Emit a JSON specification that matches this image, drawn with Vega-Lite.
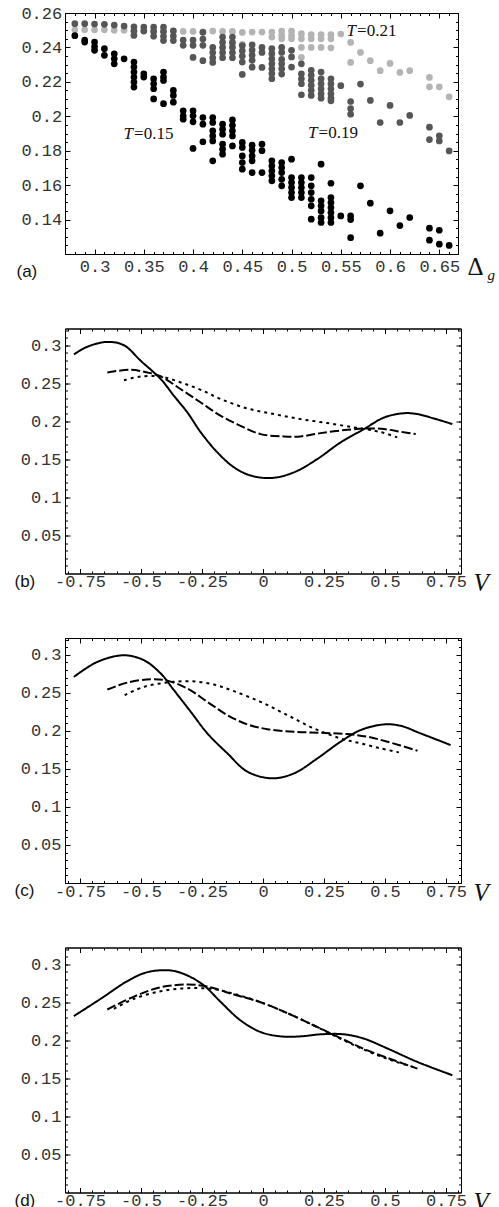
{
"$schema": "https://vega.github.io/schema/vega-lite/v6.json",
"background": "white",
"padding": {"left": 13, "top": 0, "right": 2, "bottom": 0},
"spacing": 12.5,
"bounds": "full",
"config": {
  "view": {"stroke": "#000", "strokeWidth": 1},
  "axis": {"grid": false, "domainColor": "#000", "domainWidth": 1, "tickColor": "#000", "tickWidth": 1, "labelFont": "Liberation Mono", "labelFontSize": 17, "labelColor": "#333", "labelFlush": false, "labelOverlap": false, "labelBound": false, "titleColor": "#111", "titleFontWeight": "normal"}
},
"datasets": {
"annot": [
 {"d": 0.5655, "c": 0.2468, "t": "T", "val": "=0.21"},
 {"d": 0.5264, "c": 0.1871, "t": "T", "val": "=0.19"},
 {"d": 0.3391, "c": 0.1869, "t": "T", "val": "=0.15"}
],
"scatter": [
{"d":0.28,"c":0.2502,"T":"0.21"},{"d":0.29,"c":0.2502,"T":"0.21"},{"d":0.3,"c":0.2502,"T":"0.21"},{"d":0.31,"c":0.2502,"T":"0.21"},{"d":0.32,"c":0.25,"T":"0.21"},{"d":0.33,"c":0.25,"T":"0.21"},{"d":0.34,"c":0.2498,"T":"0.21"},{"d":0.35,"c":0.2497,"T":"0.21"},{"d":0.36,"c":0.2495,"T":"0.21"},{"d":0.37,"c":0.2495,"T":"0.21"},{"d":0.38,"c":0.2495,"T":"0.21"},{"d":0.39,"c":0.2493,"T":"0.21"},{"d":0.4,"c":0.2493,"T":"0.21"},{"d":0.41,"c":0.249,"T":"0.21"},{"d":0.42,"c":0.2495,"T":"0.21"},{"d":0.43,"c":0.2493,"T":"0.21"},{"d":0.44,"c":0.2493,"T":"0.21"},{"d":0.44,"c":0.242,"T":"0.21"},{"d":0.45,"c":0.2487,"T":"0.21"},{"d":0.45,"c":0.2418,"T":"0.21"},{"d":0.46,"c":0.2489,"T":"0.21"},{"d":0.47,"c":0.2489,"T":"0.21"},{"d":0.48,"c":0.2489,"T":"0.21"},{"d":0.48,"c":0.246,"T":"0.21"},{"d":0.49,"c":0.2495,"T":"0.21"},{"d":0.49,"c":0.247,"T":"0.21"},{"d":0.49,"c":0.245,"T":"0.21"},{"d":0.5,"c":0.2495,"T":"0.21"},{"d":0.5,"c":0.247,"T":"0.21"},{"d":0.5,"c":0.245,"T":"0.21"},{"d":0.51,"c":0.248,"T":"0.21"},{"d":0.51,"c":0.245,"T":"0.21"},{"d":0.51,"c":0.24,"T":"0.21"},{"d":0.51,"c":0.2342,"T":"0.21"},{"d":0.52,"c":0.2475,"T":"0.21"},{"d":0.52,"c":0.245,"T":"0.21"},{"d":0.52,"c":0.24,"T":"0.21"},{"d":0.53,"c":0.2475,"T":"0.21"},{"d":0.53,"c":0.245,"T":"0.21"},{"d":0.53,"c":0.24,"T":"0.21"},{"d":0.54,"c":0.2475,"T":"0.21"},{"d":0.54,"c":0.245,"T":"0.21"},{"d":0.54,"c":0.2398,"T":"0.21"},{"d":0.55,"c":0.2478,"T":"0.21"},{"d":0.56,"c":0.2429,"T":"0.21"},{"d":0.56,"c":0.2313,"T":"0.21"},{"d":0.57,"c":0.2371,"T":"0.21"},{"d":0.58,"c":0.2323,"T":"0.21"},{"d":0.59,"c":0.2265,"T":"0.21"},{"d":0.6,"c":0.2307,"T":"0.21"},{"d":0.61,"c":0.2255,"T":"0.21"},{"d":0.62,"c":0.2265,"T":"0.21"},{"d":0.64,"c":0.2226,"T":"0.21"},{"d":0.64,"c":0.2171,"T":"0.21"},{"d":0.65,"c":0.2171,"T":"0.21"},{"d":0.66,"c":0.2113,"T":"0.21"},
{"d":0.28,"c":0.2538,"T":"0.19"},{"d":0.29,"c":0.2538,"T":"0.19"},{"d":0.3,"c":0.2536,"T":"0.19"},{"d":0.31,"c":0.2534,"T":"0.19"},{"d":0.32,"c":0.253,"T":"0.19"},{"d":0.33,"c":0.2524,"T":"0.19"},{"d":0.34,"c":0.252,"T":"0.19"},{"d":0.34,"c":0.2495,"T":"0.19"},{"d":0.34,"c":0.247,"T":"0.19"},{"d":0.35,"c":0.2518,"T":"0.19"},{"d":0.35,"c":0.2495,"T":"0.19"},{"d":0.36,"c":0.2518,"T":"0.19"},{"d":0.36,"c":0.2492,"T":"0.19"},{"d":0.36,"c":0.2465,"T":"0.19"},{"d":0.37,"c":0.2518,"T":"0.19"},{"d":0.37,"c":0.2492,"T":"0.19"},{"d":0.37,"c":0.2465,"T":"0.19"},{"d":0.37,"c":0.244,"T":"0.19"},{"d":0.38,"c":0.2497,"T":"0.19"},{"d":0.38,"c":0.2466,"T":"0.19"},{"d":0.38,"c":0.244,"T":"0.19"},{"d":0.39,"c":0.2443,"T":"0.19"},{"d":0.39,"c":0.2412,"T":"0.19"},{"d":0.4,"c":0.2443,"T":"0.19"},{"d":0.4,"c":0.2412,"T":"0.19"},{"d":0.4,"c":0.2342,"T":"0.19"},{"d":0.41,"c":0.2488,"T":"0.19"},{"d":0.41,"c":0.2449,"T":"0.19"},{"d":0.41,"c":0.2412,"T":"0.19"},{"d":0.41,"c":0.2323,"T":"0.19"},{"d":0.42,"c":0.24,"T":"0.19"},{"d":0.42,"c":0.237,"T":"0.19"},{"d":0.42,"c":0.234,"T":"0.19"},{"d":0.42,"c":0.2313,"T":"0.19"},{"d":0.43,"c":0.246,"T":"0.19"},{"d":0.43,"c":0.243,"T":"0.19"},{"d":0.43,"c":0.24,"T":"0.19"},{"d":0.43,"c":0.237,"T":"0.19"},{"d":0.43,"c":0.234,"T":"0.19"},{"d":0.44,"c":0.246,"T":"0.19"},{"d":0.44,"c":0.243,"T":"0.19"},{"d":0.44,"c":0.24,"T":"0.19"},{"d":0.44,"c":0.237,"T":"0.19"},{"d":0.44,"c":0.234,"T":"0.19"},{"d":0.45,"c":0.2411,"T":"0.19"},{"d":0.45,"c":0.238,"T":"0.19"},{"d":0.45,"c":0.235,"T":"0.19"},{"d":0.45,"c":0.2315,"T":"0.19"},{"d":0.45,"c":0.2243,"T":"0.19"},{"d":0.46,"c":0.2415,"T":"0.19"},{"d":0.46,"c":0.2385,"T":"0.19"},{"d":0.46,"c":0.2355,"T":"0.19"},{"d":0.46,"c":0.2325,"T":"0.19"},{"d":0.46,"c":0.2285,"T":"0.19"},{"d":0.47,"c":0.24,"T":"0.19"},{"d":0.47,"c":0.2371,"T":"0.19"},{"d":0.47,"c":0.2284,"T":"0.19"},{"d":0.48,"c":0.2393,"T":"0.19"},{"d":0.48,"c":0.2364,"T":"0.19"},{"d":0.48,"c":0.2334,"T":"0.19"},{"d":0.48,"c":0.2305,"T":"0.19"},{"d":0.48,"c":0.2276,"T":"0.19"},{"d":0.48,"c":0.2248,"T":"0.19"},{"d":0.48,"c":0.2218,"T":"0.19"},{"d":0.49,"c":0.24,"T":"0.19"},{"d":0.49,"c":0.2371,"T":"0.19"},{"d":0.49,"c":0.233,"T":"0.19"},{"d":0.49,"c":0.2305,"T":"0.19"},{"d":0.49,"c":0.2276,"T":"0.19"},{"d":0.49,"c":0.2245,"T":"0.19"},{"d":0.5,"c":0.2383,"T":"0.19"},{"d":0.5,"c":0.2345,"T":"0.19"},{"d":0.5,"c":0.2286,"T":"0.19"},{"d":0.51,"c":0.2305,"T":"0.19"},{"d":0.51,"c":0.2247,"T":"0.19"},{"d":0.51,"c":0.2218,"T":"0.19"},{"d":0.51,"c":0.2189,"T":"0.19"},{"d":0.51,"c":0.2125,"T":"0.19"},{"d":0.52,"c":0.2267,"T":"0.19"},{"d":0.52,"c":0.2238,"T":"0.19"},{"d":0.52,"c":0.2209,"T":"0.19"},{"d":0.52,"c":0.218,"T":"0.19"},{"d":0.52,"c":0.2151,"T":"0.19"},{"d":0.52,"c":0.2121,"T":"0.19"},{"d":0.53,"c":0.2257,"T":"0.19"},{"d":0.53,"c":0.2218,"T":"0.19"},{"d":0.53,"c":0.2189,"T":"0.19"},{"d":0.53,"c":0.216,"T":"0.19"},{"d":0.53,"c":0.2131,"T":"0.19"},{"d":0.53,"c":0.2105,"T":"0.19"},{"d":0.54,"c":0.2218,"T":"0.19"},{"d":0.54,"c":0.2189,"T":"0.19"},{"d":0.54,"c":0.216,"T":"0.19"},{"d":0.54,"c":0.2131,"T":"0.19"},{"d":0.54,"c":0.2105,"T":"0.19"},{"d":0.54,"c":0.209,"T":"0.19"},{"d":0.55,"c":0.2178,"T":"0.19"},{"d":0.56,"c":0.2086,"T":"0.19"},{"d":0.56,"c":0.2045,"T":"0.19"},{"d":0.56,"c":0.2012,"T":"0.19"},{"d":0.57,"c":0.2187,"T":"0.19"},{"d":0.58,"c":0.2092,"T":"0.19"},{"d":0.59,"c":0.1964,"T":"0.19"},{"d":0.6,"c":0.2063,"T":"0.19"},{"d":0.61,"c":0.1964,"T":"0.19"},{"d":0.62,"c":0.2005,"T":"0.19"},{"d":0.64,"c":0.1937,"T":"0.19"},{"d":0.64,"c":0.1865,"T":"0.19"},{"d":0.65,"c":0.1887,"T":"0.19"},{"d":0.65,"c":0.1857,"T":"0.19"},{"d":0.66,"c":0.1799,"T":"0.19"},
{"d":0.28,"c":0.2468,"T":"0.15"},{"d":0.29,"c":0.2443,"T":"0.15"},{"d":0.29,"c":0.2431,"T":"0.15"},{"d":0.3,"c":0.2431,"T":"0.15"},{"d":0.3,"c":0.2405,"T":"0.15"},{"d":0.3,"c":0.2383,"T":"0.15"},{"d":0.31,"c":0.2393,"T":"0.15"},{"d":0.31,"c":0.2354,"T":"0.15"},{"d":0.32,"c":0.2363,"T":"0.15"},{"d":0.32,"c":0.2334,"T":"0.15"},{"d":0.32,"c":0.2305,"T":"0.15"},{"d":0.33,"c":0.2334,"T":"0.15"},{"d":0.34,"c":0.2315,"T":"0.15"},{"d":0.34,"c":0.2286,"T":"0.15"},{"d":0.34,"c":0.2257,"T":"0.15"},{"d":0.34,"c":0.2228,"T":"0.15"},{"d":0.34,"c":0.2199,"T":"0.15"},{"d":0.34,"c":0.217,"T":"0.15"},{"d":0.35,"c":0.2247,"T":"0.15"},{"d":0.35,"c":0.2228,"T":"0.15"},{"d":0.36,"c":0.2218,"T":"0.15"},{"d":0.36,"c":0.2189,"T":"0.15"},{"d":0.36,"c":0.216,"T":"0.15"},{"d":0.36,"c":0.2101,"T":"0.15"},{"d":0.37,"c":0.2257,"T":"0.15"},{"d":0.37,"c":0.2228,"T":"0.15"},{"d":0.37,"c":0.2208,"T":"0.15"},{"d":0.37,"c":0.2073,"T":"0.15"},{"d":0.38,"c":0.215,"T":"0.15"},{"d":0.38,"c":0.2121,"T":"0.15"},{"d":0.38,"c":0.2082,"T":"0.15"},{"d":0.39,"c":0.2032,"T":"0.15"},{"d":0.39,"c":0.2003,"T":"0.15"},{"d":0.39,"c":0.1983,"T":"0.15"},{"d":0.4,"c":0.2032,"T":"0.15"},{"d":0.4,"c":0.2003,"T":"0.15"},{"d":0.4,"c":0.1968,"T":"0.15"},{"d":0.4,"c":0.1813,"T":"0.15"},{"d":0.41,"c":0.1993,"T":"0.15"},{"d":0.41,"c":0.1954,"T":"0.15"},{"d":0.41,"c":0.1852,"T":"0.15"},{"d":0.42,"c":0.1993,"T":"0.15"},{"d":0.42,"c":0.1964,"T":"0.15"},{"d":0.42,"c":0.1916,"T":"0.15"},{"d":0.42,"c":0.1886,"T":"0.15"},{"d":0.42,"c":0.1857,"T":"0.15"},{"d":0.42,"c":0.1741,"T":"0.15"},{"d":0.43,"c":0.1954,"T":"0.15"},{"d":0.43,"c":0.1925,"T":"0.15"},{"d":0.43,"c":0.1896,"T":"0.15"},{"d":0.43,"c":0.1838,"T":"0.15"},{"d":0.43,"c":0.1809,"T":"0.15"},{"d":0.43,"c":0.178,"T":"0.15"},{"d":0.44,"c":0.1979,"T":"0.15"},{"d":0.44,"c":0.1948,"T":"0.15"},{"d":0.44,"c":0.1916,"T":"0.15"},{"d":0.44,"c":0.1886,"T":"0.15"},{"d":0.44,"c":0.1828,"T":"0.15"},{"d":0.45,"c":0.1848,"T":"0.15"},{"d":0.45,"c":0.1819,"T":"0.15"},{"d":0.45,"c":0.177,"T":"0.15"},{"d":0.45,"c":0.1731,"T":"0.15"},{"d":0.45,"c":0.1693,"T":"0.15"},{"d":0.46,"c":0.1832,"T":"0.15"},{"d":0.46,"c":0.1803,"T":"0.15"},{"d":0.46,"c":0.177,"T":"0.15"},{"d":0.46,"c":0.1741,"T":"0.15"},{"d":0.46,"c":0.1673,"T":"0.15"},{"d":0.47,"c":0.1838,"T":"0.15"},{"d":0.47,"c":0.18,"T":"0.15"},{"d":0.47,"c":0.1673,"T":"0.15"},{"d":0.48,"c":0.1741,"T":"0.15"},{"d":0.48,"c":0.1712,"T":"0.15"},{"d":0.48,"c":0.1683,"T":"0.15"},{"d":0.48,"c":0.1654,"T":"0.15"},{"d":0.48,"c":0.1625,"T":"0.15"},{"d":0.49,"c":0.1731,"T":"0.15"},{"d":0.49,"c":0.1702,"T":"0.15"},{"d":0.49,"c":0.1673,"T":"0.15"},{"d":0.49,"c":0.1634,"T":"0.15"},{"d":0.49,"c":0.1596,"T":"0.15"},{"d":0.5,"c":0.1751,"T":"0.15"},{"d":0.5,"c":0.1644,"T":"0.15"},{"d":0.5,"c":0.1615,"T":"0.15"},{"d":0.5,"c":0.1586,"T":"0.15"},{"d":0.5,"c":0.1557,"T":"0.15"},{"d":0.5,"c":0.1528,"T":"0.15"},{"d":0.51,"c":0.1644,"T":"0.15"},{"d":0.51,"c":0.1615,"T":"0.15"},{"d":0.51,"c":0.1586,"T":"0.15"},{"d":0.51,"c":0.1557,"T":"0.15"},{"d":0.51,"c":0.1528,"T":"0.15"},{"d":0.52,"c":0.1644,"T":"0.15"},{"d":0.52,"c":0.1596,"T":"0.15"},{"d":0.52,"c":0.1557,"T":"0.15"},{"d":0.52,"c":0.1518,"T":"0.15"},{"d":0.52,"c":0.148,"T":"0.15"},{"d":0.52,"c":0.1402,"T":"0.15"},{"d":0.53,"c":0.1722,"T":"0.15"},{"d":0.53,"c":0.1509,"T":"0.15"},{"d":0.53,"c":0.148,"T":"0.15"},{"d":0.53,"c":0.145,"T":"0.15"},{"d":0.53,"c":0.1411,"T":"0.15"},{"d":0.53,"c":0.1383,"T":"0.15"},{"d":0.54,"c":0.1611,"T":"0.15"},{"d":0.54,"c":0.1528,"T":"0.15"},{"d":0.54,"c":0.1499,"T":"0.15"},{"d":0.54,"c":0.147,"T":"0.15"},{"d":0.54,"c":0.1441,"T":"0.15"},{"d":0.54,"c":0.1411,"T":"0.15"},{"d":0.54,"c":0.1383,"T":"0.15"},{"d":0.55,"c":0.1421,"T":"0.15"},{"d":0.56,"c":0.1421,"T":"0.15"},{"d":0.56,"c":0.14,"T":"0.15"},{"d":0.56,"c":0.1295,"T":"0.15"},{"d":0.57,"c":0.1596,"T":"0.15"},{"d":0.58,"c":0.1495,"T":"0.15"},{"d":0.59,"c":0.1321,"T":"0.15"},{"d":0.6,"c":0.1451,"T":"0.15"},{"d":0.61,"c":0.1365,"T":"0.15"},{"d":0.62,"c":0.1412,"T":"0.15"},{"d":0.64,"c":0.135,"T":"0.15"},{"d":0.64,"c":0.128,"T":"0.15"},{"d":0.65,"c":0.1338,"T":"0.15"},{"d":0.65,"c":0.1257,"T":"0.15"},{"d":0.66,"c":0.125,"T":"0.15"}
],
"b": [
{"V":-0.775,"v":0.288,"s":"solid"},{"V":-0.72,"v":0.298,"s":"solid"},{"V":-0.638,"v":0.3044,"s":"solid"},{"V":-0.57,"v":0.3,"s":"solid"},{"V":-0.501,"v":0.2795,"s":"solid"},{"V":-0.419,"v":0.2555,"s":"solid"},{"V":-0.365,"v":0.2335,"s":"solid"},{"V":-0.31,"v":0.2117,"s":"solid"},{"V":-0.255,"v":0.1855,"s":"solid"},{"V":-0.187,"v":0.1592,"s":"solid"},{"V":-0.119,"v":0.1396,"s":"solid"},{"V":-0.05,"v":0.1287,"s":"solid"},{"V":0.038,"v":0.1256,"s":"solid"},{"V":0.127,"v":0.133,"s":"solid"},{"V":0.223,"v":0.1505,"s":"solid"},{"V":0.318,"v":0.1723,"s":"solid"},{"V":0.414,"v":0.1898,"s":"solid"},{"V":0.496,"v":0.205,"s":"solid"},{"V":0.578,"v":0.2107,"s":"solid"},{"V":0.633,"v":0.2095,"s":"solid"},{"V":0.7,"v":0.2038,"s":"solid"},{"V":0.776,"v":0.1964,"s":"solid"},
{"V":-0.638,"v":0.2642,"s":"dash"},{"V":-0.542,"v":0.2677,"s":"dash"},{"V":-0.474,"v":0.2642,"s":"dash"},{"V":-0.419,"v":0.259,"s":"dash"},{"V":-0.337,"v":0.2422,"s":"dash"},{"V":-0.255,"v":0.2247,"s":"dash"},{"V":-0.173,"v":0.2072,"s":"dash"},{"V":-0.092,"v":0.1941,"s":"dash"},{"V":-0.01,"v":0.1832,"s":"dash"},{"V":0.086,"v":0.1802,"s":"dash"},{"V":0.154,"v":0.1802,"s":"dash"},{"V":0.236,"v":0.1845,"s":"dash"},{"V":0.346,"v":0.1889,"s":"dash"},{"V":0.428,"v":0.1907,"s":"dash"},{"V":0.496,"v":0.1898,"s":"dash"},{"V":0.564,"v":0.1863,"s":"dash"},{"V":0.626,"v":0.1832,"s":"dash"},
{"V":-0.57,"v":0.254,"s":"dot"},{"V":-0.501,"v":0.2589,"s":"dot"},{"V":-0.419,"v":0.2589,"s":"dot"},{"V":-0.337,"v":0.2511,"s":"dot"},{"V":-0.255,"v":0.2414,"s":"dot"},{"V":-0.173,"v":0.2292,"s":"dot"},{"V":-0.064,"v":0.2169,"s":"dot"},{"V":0.045,"v":0.2095,"s":"dot"},{"V":0.154,"v":0.2029,"s":"dot"},{"V":0.264,"v":0.1977,"s":"dot"},{"V":0.373,"v":0.192,"s":"dot"},{"V":0.455,"v":0.1877,"s":"dot"},{"V":0.496,"v":0.1846,"s":"dot"},{"V":0.55,"v":0.1789,"s":"dot"}
],
"c": [
{"V":-0.775,"v":0.2709,"s":"solid"},{"V":-0.679,"v":0.2906,"s":"solid"},{"V":-0.57,"v":0.2993,"s":"solid"},{"V":-0.488,"v":0.2928,"s":"solid"},{"V":-0.419,"v":0.2753,"s":"solid"},{"V":-0.365,"v":0.2534,"s":"solid"},{"V":-0.296,"v":0.225,"s":"solid"},{"V":-0.228,"v":0.1966,"s":"solid"},{"V":-0.146,"v":0.1704,"s":"solid"},{"V":-0.064,"v":0.1463,"s":"solid"},{"V":0.038,"v":0.1376,"s":"solid"},{"V":0.127,"v":0.1441,"s":"solid"},{"V":0.223,"v":0.1638,"s":"solid"},{"V":0.318,"v":0.1857,"s":"solid"},{"V":0.4,"v":0.201,"s":"solid"},{"V":0.496,"v":0.2084,"s":"solid"},{"V":0.564,"v":0.2066,"s":"solid"},{"V":0.646,"v":0.1966,"s":"solid"},{"V":0.769,"v":0.1813,"s":"solid"},
{"V":-0.638,"v":0.2543,"s":"dash"},{"V":-0.556,"v":0.2634,"s":"dash"},{"V":-0.46,"v":0.2678,"s":"dash"},{"V":-0.392,"v":0.266,"s":"dash"},{"V":-0.31,"v":0.2556,"s":"dash"},{"V":-0.228,"v":0.2381,"s":"dash"},{"V":-0.146,"v":0.2206,"s":"dash"},{"V":-0.064,"v":0.2084,"s":"dash"},{"V":0.018,"v":0.2022,"s":"dash"},{"V":0.127,"v":0.1987,"s":"dash"},{"V":0.236,"v":0.1974,"s":"dash"},{"V":0.346,"v":0.1957,"s":"dash"},{"V":0.428,"v":0.1922,"s":"dash"},{"V":0.51,"v":0.1857,"s":"dash"},{"V":0.633,"v":0.1739,"s":"dash"},
{"V":-0.567,"v":0.2469,"s":"dot"},{"V":-0.488,"v":0.2578,"s":"dot"},{"V":-0.392,"v":0.2635,"s":"dot"},{"V":-0.296,"v":0.2652,"s":"dot"},{"V":-0.201,"v":0.2608,"s":"dot"},{"V":-0.119,"v":0.2521,"s":"dot"},{"V":-0.01,"v":0.2381,"s":"dot"},{"V":0.1,"v":0.2206,"s":"dot"},{"V":0.209,"v":0.2031,"s":"dot"},{"V":0.318,"v":0.19,"s":"dot"},{"V":0.4,"v":0.1835,"s":"dot"},{"V":0.482,"v":0.1769,"s":"dot"},{"V":0.557,"v":0.1717,"s":"dot"}
],
"d": [
{"V":-0.775,"v":0.2319,"s":"solid"},{"V":-0.665,"v":0.2546,"s":"solid"},{"V":-0.556,"v":0.2778,"s":"solid"},{"V":-0.474,"v":0.2896,"s":"solid"},{"V":-0.378,"v":0.2918,"s":"solid"},{"V":-0.31,"v":0.2852,"s":"solid"},{"V":-0.242,"v":0.2721,"s":"solid"},{"V":-0.173,"v":0.2503,"s":"solid"},{"V":-0.092,"v":0.2262,"s":"solid"},{"V":-0.01,"v":0.2109,"s":"solid"},{"V":0.072,"v":0.2052,"s":"solid"},{"V":0.154,"v":0.2052,"s":"solid"},{"V":0.236,"v":0.2079,"s":"solid"},{"V":0.332,"v":0.2079,"s":"solid"},{"V":0.414,"v":0.2022,"s":"solid"},{"V":0.496,"v":0.1913,"s":"solid"},{"V":0.633,"v":0.1716,"s":"solid"},{"V":0.776,"v":0.1541,"s":"solid"},
{"V":-0.638,"v":0.2405,"s":"dash"},{"V":-0.529,"v":0.2575,"s":"dash"},{"V":-0.419,"v":0.2698,"s":"dash"},{"V":-0.31,"v":0.2733,"s":"dash"},{"V":-0.228,"v":0.2707,"s":"dash"},{"V":-0.119,"v":0.2602,"s":"dash"},{"V":-0.01,"v":0.2501,"s":"dash"},{"V":0.1,"v":0.2357,"s":"dash"},{"V":0.209,"v":0.2195,"s":"dash"},{"V":0.318,"v":0.2029,"s":"dash"},{"V":0.428,"v":0.1867,"s":"dash"},{"V":0.537,"v":0.1738,"s":"dash"},{"V":0.633,"v":0.1628,"s":"dash"},
{"V":-0.611,"v":0.2414,"s":"dot"},{"V":-0.529,"v":0.2546,"s":"dot"},{"V":-0.419,"v":0.2646,"s":"dot"},{"V":-0.31,"v":0.2685,"s":"dot"},{"V":-0.201,"v":0.2672,"s":"dot"},{"V":-0.119,"v":0.2611,"s":"dot"},{"V":-0.01,"v":0.2501,"s":"dot"},{"V":0.1,"v":0.2357,"s":"dot"},{"V":0.209,"v":0.2195,"s":"dot"},{"V":0.318,"v":0.202,"s":"dot"},{"V":0.428,"v":0.1858,"s":"dot"},{"V":0.537,"v":0.1727,"s":"dot"},{"V":0.626,"v":0.1641,"s":"dot"}
]
},
"vconcat": [
{
 "width": 393, "height": 241,
 "layer": [
  {"data": {"name": "scatter"},
   "mark": {"type": "circle", "size": 45, "opacity": 1},
   "encoding": {
    "x": {"field": "d", "type": "quantitative", "scale": {"domain": [0.27, 0.669], "nice": false, "zero": false},
      "axis": {"orient": "bottom", "values": [0.3,0.35,0.4,0.45,0.5,0.55,0.6,0.65], "labelExpr": "'' + datum.value", "tickSize": -5, "labelPadding": 9.3, "title": "Δ", "titleX": 402, "titleY": 20.3, "titleAnchor": "start", "titleAlign": "left", "titleBaseline": "alphabetic", "titleFont": "Liberation Serif", "titleFontSize": 25}},
    "y": {"field": "c", "type": "quantitative", "scale": {"domain": [0.12, 0.26], "nice": false, "zero": false},
      "axis": {"orient": "left", "values": [0.14,0.16,0.18,0.2,0.22,0.24,0.26], "labelExpr": "'' + datum.value", "tickSize": -5, "labelPadding": 8.3, "title": "(a)", "titleAngle": 0, "titleX": -49, "titleY": 263.7, "titleAnchor": "start", "titleAlign": "left", "titleBaseline": "alphabetic", "titleFont": "Liberation Sans", "titleFontSize": 17}},
    "color": {"field": "T", "type": "nominal", "scale": {"domain": ["0.21","0.19","0.15"], "range": ["#b4b4b4","#565656","#000000"]}, "legend": null}
   }},
  {"data": {"name": "annot"},
   "mark": {"type": "point", "opacity": 0},
   "encoding": {
    "x": {"field": "d", "type": "quantitative", "scale": {"domain": [0.27, 0.669], "nice": false, "zero": false},
      "axis": {"orient": "bottom", "values": [0.27,0.28,0.29,0.3,0.31,0.32,0.33,0.34,0.35,0.36,0.37,0.38,0.39,0.4,0.41,0.42,0.43,0.44,0.45,0.46,0.47,0.48,0.49,0.5,0.51,0.52,0.53,0.54,0.55,0.56,0.57,0.58,0.59,0.6,0.61,0.62,0.63,0.64,0.65,0.66], "labels": false, "domain": false, "tickSize": -2.5, "title": "g", "titleX": 422, "titleY": 25.5, "titleAnchor": "start", "titleAlign": "left", "titleBaseline": "alphabetic", "titleFont": "Liberation Serif", "titleFontStyle": "italic", "titleFontSize": 15}},
    "y": {"field": "c", "type": "quantitative", "scale": {"domain": [0.12, 0.26], "nice": false, "zero": false},
      "axis": {"orient": "left", "values": [0.12,0.125,0.13,0.135,0.14,0.145,0.15,0.155,0.16,0.165,0.17,0.175,0.18,0.185,0.19,0.195,0.2,0.205,0.21,0.215,0.22,0.225,0.23,0.235,0.24,0.245,0.25,0.255,0.26], "labels": false, "domain": false, "tickSize": -2.5, "title": null}}
   }},
  {"data": {"name": "annot"},
   "mark": {"type": "point", "opacity": 0},
   "encoding": {
    "x": {"field": "d", "type": "quantitative", "scale": {"domain": [0.27, 0.669], "nice": false, "zero": false},
      "axis": {"orient": "top", "values": [0.3,0.35,0.4,0.45,0.5,0.55,0.6,0.65], "labels": false, "tickSize": -5, "title": "x", "titleOpacity": 0, "titleFontSize": 10, "titleX": 0, "titleY": 281.5, "titleBaseline": "top", "titleAlign": "left", "titleAnchor": "start"}},
    "y": {"field": "c", "type": "quantitative", "scale": {"domain": [0.12, 0.26], "nice": false, "zero": false},
      "axis": {"orient": "right", "values": [0.14,0.16,0.18,0.2,0.22,0.24,0.26], "labels": false, "tickSize": -5, "title": null}}
   }},
  {"data": {"name": "annot"},
   "mark": {"type": "point", "opacity": 0},
   "encoding": {
    "x": {"field": "d", "type": "quantitative", "scale": {"domain": [0.27, 0.669], "nice": false, "zero": false},
      "axis": {"orient": "top", "values": [0.27,0.28,0.29,0.3,0.31,0.32,0.33,0.34,0.35,0.36,0.37,0.38,0.39,0.4,0.41,0.42,0.43,0.44,0.45,0.46,0.47,0.48,0.49,0.5,0.51,0.52,0.53,0.54,0.55,0.56,0.57,0.58,0.59,0.6,0.61,0.62,0.63,0.64,0.65,0.66], "labels": false, "domain": false, "tickSize": -2.5, "title": "x", "titleOpacity": 0, "titleFontSize": 10, "titleX": 0, "titleY": -12, "titleBaseline": "top", "titleAlign": "left", "titleAnchor": "start"}},
    "y": {"field": "c", "type": "quantitative", "scale": {"domain": [0.12, 0.26], "nice": false, "zero": false},
      "axis": {"orient": "right", "values": [0.12,0.125,0.13,0.135,0.14,0.145,0.15,0.155,0.16,0.165,0.17,0.175,0.18,0.185,0.19,0.195,0.2,0.205,0.21,0.215,0.22,0.225,0.23,0.235,0.24,0.245,0.25,0.255,0.26], "labels": false, "domain": false, "tickSize": -2.5, "title": null}}
   }},
  {"data": {"name": "annot"},
   "mark": {"type": "text", "font": "Liberation Serif", "fontStyle": "italic", "fontSize": 17, "align": "right", "baseline": "alphabetic", "color": "#111"},
   "encoding": {
    "x": {"field": "d", "type": "quantitative", "scale": {"domain": [0.27, 0.669], "nice": false, "zero": false}, "axis": null},
    "y": {"field": "c", "type": "quantitative", "scale": {"domain": [0.12, 0.26], "nice": false, "zero": false}, "axis": null},
    "text": {"field": "t"}
   }},
  {"data": {"name": "annot"},
   "mark": {"type": "text", "font": "Liberation Serif", "fontSize": 17, "align": "left", "baseline": "alphabetic", "color": "#111", "dx": 1},
   "encoding": {
    "x": {"field": "d", "type": "quantitative", "scale": {"domain": [0.27, 0.669], "nice": false, "zero": false}, "axis": null},
    "y": {"field": "c", "type": "quantitative", "scale": {"domain": [0.12, 0.26], "nice": false, "zero": false}, "axis": null},
    "text": {"field": "val"}
   }}
 ],
 "resolve": {"axis": {"x": "independent", "y": "independent"}}
},
{
 "width": 396, "height": 245,
 "data": {"name": "b"},
 "layer": [
  {"mark": {"type": "line", "color": "#000", "strokeWidth": 2, "interpolate": "catmull-rom"},
   "encoding": {
    "x": {"field": "V", "type": "quantitative", "scale": {"domain": [-0.8115, 0.8115], "nice": false, "zero": false},
      "axis": {"orient": "bottom", "values": [-0.75,-0.5,-0.25,0,0.25,0.5,0.75], "labelExpr": "'' + datum.value", "tickSize": -5, "labelPadding": 5.3, "title": "V", "titleX": 408, "titleY": 17.3, "titleAnchor": "start", "titleAlign": "left", "titleBaseline": "alphabetic", "titleFont": "Liberation Serif", "titleFontStyle": "italic", "titleFontSize": 25}},
    "y": {"field": "v", "type": "quantitative", "scale": {"domain": [0, 0.322], "nice": false, "zero": false},
      "axis": {"orient": "left", "values": [0.05,0.1,0.15,0.2,0.25,0.3], "labelExpr": "'' + datum.value", "tickSize": -5, "labelPadding": 9, "title": "(b)", "titleAngle": 0, "titleX": -51, "titleY": 257.7, "titleAnchor": "start", "titleAlign": "left", "titleBaseline": "alphabetic", "titleFont": "Liberation Sans", "titleFontSize": 17}},
    "strokeDash": {"field": "s", "type": "nominal", "scale": {"domain": ["solid","dash","dot"], "range": [[1,0],[9,3],[3,4]]}, "legend": null}
   }},
  {"mark": {"type": "point", "opacity": 0},
   "encoding": {
    "x": {"field": "V", "type": "quantitative", "scale": {"domain": [-0.8115, 0.8115], "nice": false, "zero": false},
      "axis": {"orient": "bottom", "values": [-0.8,-0.75,-0.7,-0.65,-0.6,-0.55,-0.5,-0.45,-0.4,-0.35,-0.3,-0.25,-0.2,-0.15,-0.1,-0.05,0,0.05,0.1,0.15,0.2,0.25,0.3,0.35,0.4,0.45,0.5,0.55,0.6,0.65,0.7,0.75,0.8], "labels": false, "domain": false, "tickSize": -2.5, "title": null}},
    "y": {"field": "v", "type": "quantitative", "scale": {"domain": [0, 0.322], "nice": false, "zero": false},
      "axis": {"orient": "left", "values": [0.01,0.02,0.03,0.04,0.05,0.06,0.07,0.08,0.09,0.1,0.11,0.12,0.13,0.14,0.15,0.16,0.17,0.18,0.19,0.2,0.21,0.22,0.23,0.24,0.25,0.26,0.27,0.28,0.29,0.3,0.31,0.32], "labels": false, "domain": false, "tickSize": -2.5, "title": null}}
   }},
  {"mark": {"type": "point", "opacity": 0},
   "encoding": {
    "x": {"field": "V", "type": "quantitative", "scale": {"domain": [-0.8115, 0.8115], "nice": false, "zero": false},
      "axis": {"orient": "top", "values": [-0.75,-0.5,-0.25,0,0.25,0.5,0.75], "labels": false, "tickSize": -5, "title": "x", "titleOpacity": 0, "titleFontSize": 10, "titleX": 0, "titleY": 275, "titleBaseline": "top", "titleAlign": "left", "titleAnchor": "start"}},
    "y": {"field": "v", "type": "quantitative", "scale": {"domain": [0, 0.322], "nice": false, "zero": false},
      "axis": {"orient": "right", "values": [0.05,0.1,0.15,0.2,0.25,0.3], "labels": false, "tickSize": -5, "title": null}}
   }},
  {"mark": {"type": "point", "opacity": 0},
   "encoding": {
    "x": {"field": "V", "type": "quantitative", "scale": {"domain": [-0.8115, 0.8115], "nice": false, "zero": false},
      "axis": {"orient": "top", "values": [-0.8,-0.75,-0.7,-0.65,-0.6,-0.55,-0.5,-0.45,-0.4,-0.35,-0.3,-0.25,-0.2,-0.15,-0.1,-0.05,0,0.05,0.1,0.15,0.2,0.25,0.3,0.35,0.4,0.45,0.5,0.55,0.6,0.65,0.7,0.75,0.8], "labels": false, "domain": false, "tickSize": -2.5, "title": "x", "titleOpacity": 0, "titleFontSize": 10, "titleX": 0, "titleY": -10, "titleBaseline": "top", "titleAlign": "left", "titleAnchor": "start"}},
    "y": {"field": "v", "type": "quantitative", "scale": {"domain": [0, 0.322], "nice": false, "zero": false},
      "axis": {"orient": "right", "values": [0.01,0.02,0.03,0.04,0.05,0.06,0.07,0.08,0.09,0.1,0.11,0.12,0.13,0.14,0.15,0.16,0.17,0.18,0.19,0.2,0.21,0.22,0.23,0.24,0.25,0.26,0.27,0.28,0.29,0.3,0.31,0.32], "labels": false, "domain": false, "tickSize": -2.5, "title": null}}
   }}
 ],
 "resolve": {"axis": {"x": "independent", "y": "independent"}}
},
{
 "width": 396, "height": 245,
 "data": {"name": "c"},
 "layer": [
  {"mark": {"type": "line", "color": "#000", "strokeWidth": 2, "interpolate": "catmull-rom"},
   "encoding": {
    "x": {"field": "V", "type": "quantitative", "scale": {"domain": [-0.8115, 0.8115], "nice": false, "zero": false},
      "axis": {"orient": "bottom", "values": [-0.75,-0.5,-0.25,0,0.25,0.5,0.75], "labelExpr": "'' + datum.value", "tickSize": -5, "labelPadding": 5.3, "title": "V", "titleX": 408, "titleY": 17.3, "titleAnchor": "start", "titleAlign": "left", "titleBaseline": "alphabetic", "titleFont": "Liberation Serif", "titleFontStyle": "italic", "titleFontSize": 25}},
    "y": {"field": "v", "type": "quantitative", "scale": {"domain": [0, 0.322], "nice": false, "zero": false},
      "axis": {"orient": "left", "values": [0.05,0.1,0.15,0.2,0.25,0.3], "labelExpr": "'' + datum.value", "tickSize": -5, "labelPadding": 9, "title": "(c)", "titleAngle": 0, "titleX": -51, "titleY": 257.7, "titleAnchor": "start", "titleAlign": "left", "titleBaseline": "alphabetic", "titleFont": "Liberation Sans", "titleFontSize": 17}},
    "strokeDash": {"field": "s", "type": "nominal", "scale": {"domain": ["solid","dash","dot"], "range": [[1,0],[9,3],[3,4]]}, "legend": null}
   }},
  {"mark": {"type": "point", "opacity": 0},
   "encoding": {
    "x": {"field": "V", "type": "quantitative", "scale": {"domain": [-0.8115, 0.8115], "nice": false, "zero": false},
      "axis": {"orient": "bottom", "values": [-0.8,-0.75,-0.7,-0.65,-0.6,-0.55,-0.5,-0.45,-0.4,-0.35,-0.3,-0.25,-0.2,-0.15,-0.1,-0.05,0,0.05,0.1,0.15,0.2,0.25,0.3,0.35,0.4,0.45,0.5,0.55,0.6,0.65,0.7,0.75,0.8], "labels": false, "domain": false, "tickSize": -2.5, "title": null}},
    "y": {"field": "v", "type": "quantitative", "scale": {"domain": [0, 0.322], "nice": false, "zero": false},
      "axis": {"orient": "left", "values": [0.01,0.02,0.03,0.04,0.05,0.06,0.07,0.08,0.09,0.1,0.11,0.12,0.13,0.14,0.15,0.16,0.17,0.18,0.19,0.2,0.21,0.22,0.23,0.24,0.25,0.26,0.27,0.28,0.29,0.3,0.31,0.32], "labels": false, "domain": false, "tickSize": -2.5, "title": null}}
   }},
  {"mark": {"type": "point", "opacity": 0},
   "encoding": {
    "x": {"field": "V", "type": "quantitative", "scale": {"domain": [-0.8115, 0.8115], "nice": false, "zero": false},
      "axis": {"orient": "top", "values": [-0.75,-0.5,-0.25,0,0.25,0.5,0.75], "labels": false, "tickSize": -5, "title": "x", "titleOpacity": 0, "titleFontSize": 10, "titleX": 0, "titleY": 275, "titleBaseline": "top", "titleAlign": "left", "titleAnchor": "start"}},
    "y": {"field": "v", "type": "quantitative", "scale": {"domain": [0, 0.322], "nice": false, "zero": false},
      "axis": {"orient": "right", "values": [0.05,0.1,0.15,0.2,0.25,0.3], "labels": false, "tickSize": -5, "title": null}}
   }},
  {"mark": {"type": "point", "opacity": 0},
   "encoding": {
    "x": {"field": "V", "type": "quantitative", "scale": {"domain": [-0.8115, 0.8115], "nice": false, "zero": false},
      "axis": {"orient": "top", "values": [-0.8,-0.75,-0.7,-0.65,-0.6,-0.55,-0.5,-0.45,-0.4,-0.35,-0.3,-0.25,-0.2,-0.15,-0.1,-0.05,0,0.05,0.1,0.15,0.2,0.25,0.3,0.35,0.4,0.45,0.5,0.55,0.6,0.65,0.7,0.75,0.8], "labels": false, "domain": false, "tickSize": -2.5, "title": "x", "titleOpacity": 0, "titleFontSize": 10, "titleX": 0, "titleY": -10, "titleBaseline": "top", "titleAlign": "left", "titleAnchor": "start"}},
    "y": {"field": "v", "type": "quantitative", "scale": {"domain": [0, 0.322], "nice": false, "zero": false},
      "axis": {"orient": "right", "values": [0.01,0.02,0.03,0.04,0.05,0.06,0.07,0.08,0.09,0.1,0.11,0.12,0.13,0.14,0.15,0.16,0.17,0.18,0.19,0.2,0.21,0.22,0.23,0.24,0.25,0.26,0.27,0.28,0.29,0.3,0.31,0.32], "labels": false, "domain": false, "tickSize": -2.5, "title": null}}
   }}
 ],
 "resolve": {"axis": {"x": "independent", "y": "independent"}}
},
{
 "width": 396, "height": 245,
 "data": {"name": "d"},
 "layer": [
  {"mark": {"type": "line", "color": "#000", "strokeWidth": 2, "interpolate": "catmull-rom"},
   "encoding": {
    "x": {"field": "V", "type": "quantitative", "scale": {"domain": [-0.8115, 0.8115], "nice": false, "zero": false},
      "axis": {"orient": "bottom", "values": [-0.75,-0.5,-0.25,0,0.25,0.5,0.75], "labelExpr": "'' + datum.value", "tickSize": -5, "labelPadding": 5.3, "title": "V", "titleX": 408, "titleY": 17.3, "titleAnchor": "start", "titleAlign": "left", "titleBaseline": "alphabetic", "titleFont": "Liberation Serif", "titleFontStyle": "italic", "titleFontSize": 25}},
    "y": {"field": "v", "type": "quantitative", "scale": {"domain": [0, 0.322], "nice": false, "zero": false},
      "axis": {"orient": "left", "values": [0.05,0.1,0.15,0.2,0.25,0.3], "labelExpr": "'' + datum.value", "tickSize": -5, "labelPadding": 9, "title": "(d)", "titleAngle": 0, "titleX": -51, "titleY": 257.7, "titleAnchor": "start", "titleAlign": "left", "titleBaseline": "alphabetic", "titleFont": "Liberation Sans", "titleFontSize": 17}},
    "strokeDash": {"field": "s", "type": "nominal", "scale": {"domain": ["solid","dash","dot"], "range": [[1,0],[9,3],[3,4]]}, "legend": null}
   }},
  {"mark": {"type": "point", "opacity": 0},
   "encoding": {
    "x": {"field": "V", "type": "quantitative", "scale": {"domain": [-0.8115, 0.8115], "nice": false, "zero": false},
      "axis": {"orient": "bottom", "values": [-0.8,-0.75,-0.7,-0.65,-0.6,-0.55,-0.5,-0.45,-0.4,-0.35,-0.3,-0.25,-0.2,-0.15,-0.1,-0.05,0,0.05,0.1,0.15,0.2,0.25,0.3,0.35,0.4,0.45,0.5,0.55,0.6,0.65,0.7,0.75,0.8], "labels": false, "domain": false, "tickSize": -2.5, "title": null}},
    "y": {"field": "v", "type": "quantitative", "scale": {"domain": [0, 0.322], "nice": false, "zero": false},
      "axis": {"orient": "left", "values": [0.01,0.02,0.03,0.04,0.05,0.06,0.07,0.08,0.09,0.1,0.11,0.12,0.13,0.14,0.15,0.16,0.17,0.18,0.19,0.2,0.21,0.22,0.23,0.24,0.25,0.26,0.27,0.28,0.29,0.3,0.31,0.32], "labels": false, "domain": false, "tickSize": -2.5, "title": null}}
   }},
  {"mark": {"type": "point", "opacity": 0},
   "encoding": {
    "x": {"field": "V", "type": "quantitative", "scale": {"domain": [-0.8115, 0.8115], "nice": false, "zero": false},
      "axis": {"orient": "top", "values": [-0.75,-0.5,-0.25,0,0.25,0.5,0.75], "labels": false, "tickSize": -5, "title": null}},
    "y": {"field": "v", "type": "quantitative", "scale": {"domain": [0, 0.322], "nice": false, "zero": false},
      "axis": {"orient": "right", "values": [0.05,0.1,0.15,0.2,0.25,0.3], "labels": false, "tickSize": -5, "title": null}}
   }},
  {"mark": {"type": "point", "opacity": 0},
   "encoding": {
    "x": {"field": "V", "type": "quantitative", "scale": {"domain": [-0.8115, 0.8115], "nice": false, "zero": false},
      "axis": {"orient": "top", "values": [-0.8,-0.75,-0.7,-0.65,-0.6,-0.55,-0.5,-0.45,-0.4,-0.35,-0.3,-0.25,-0.2,-0.15,-0.1,-0.05,0,0.05,0.1,0.15,0.2,0.25,0.3,0.35,0.4,0.45,0.5,0.55,0.6,0.65,0.7,0.75,0.8], "labels": false, "domain": false, "tickSize": -2.5, "title": "x", "titleOpacity": 0, "titleFontSize": 10, "titleX": 0, "titleY": -10, "titleBaseline": "top", "titleAlign": "left", "titleAnchor": "start"}},
    "y": {"field": "v", "type": "quantitative", "scale": {"domain": [0, 0.322], "nice": false, "zero": false},
      "axis": {"orient": "right", "values": [0.01,0.02,0.03,0.04,0.05,0.06,0.07,0.08,0.09,0.1,0.11,0.12,0.13,0.14,0.15,0.16,0.17,0.18,0.19,0.2,0.21,0.22,0.23,0.24,0.25,0.26,0.27,0.28,0.29,0.3,0.31,0.32], "labels": false, "domain": false, "tickSize": -2.5, "title": null}}
   }}
 ],
 "resolve": {"axis": {"x": "independent", "y": "independent"}}
}
]
}
